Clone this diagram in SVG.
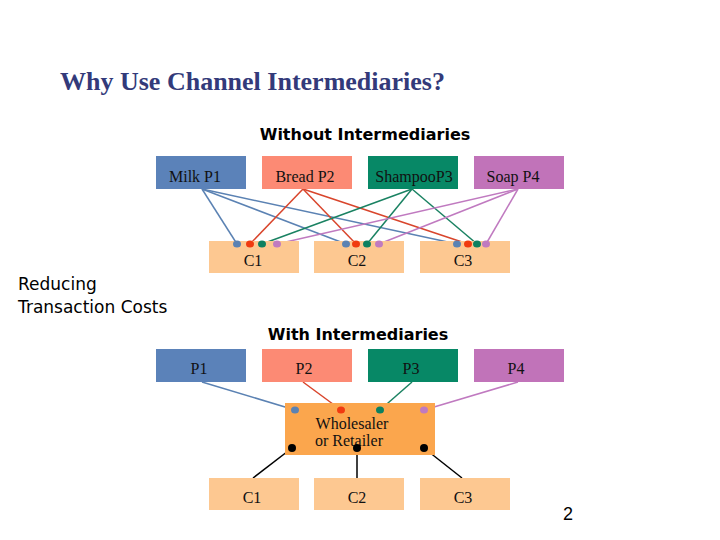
<svg xmlns="http://www.w3.org/2000/svg" width="720" height="540" viewBox="0 0 720 540">
<style>
.t{font-family:"Liberation Serif",serif;font-size:16px;fill:#111;text-anchor:middle}
.h{font-family:"DejaVu Sans",sans-serif;font-size:16px;font-weight:bold;fill:#000;text-anchor:middle}
.c{fill:#fdc891}
line{stroke-width:1.5}
</style>
<rect width="720" height="540" fill="#fff"/>
<text x="60" y="90" style="font-family:'Liberation Serif',serif;font-size:26px;font-weight:bold;fill:#333a7a">Why Use Channel Intermediaries?</text>
<text class="h" x="365" y="140">Without Intermediaries</text>
<text class="h" x="358" y="340">With Intermediaries</text>
<text x="18" y="290" style="font-family:'DejaVu Sans',sans-serif;font-size:17px">Reducing</text>
<text x="18" y="313" style="font-family:'DejaVu Sans',sans-serif;font-size:17px">Transaction Costs</text>
<text x="563" y="520" style="font-family:'Liberation Sans',sans-serif;font-size:18px">2</text>
<g id="connectors">
<g stroke="#5b82b3"><line x1="202" y1="189" x2="237" y2="244"/><line x1="202" y1="189" x2="346" y2="244"/><line x1="202" y1="189" x2="457" y2="244"/></g>
<g stroke="#d9452c"><line x1="303" y1="189" x2="250" y2="244"/><line x1="303" y1="189" x2="356" y2="244"/><line x1="303" y1="189" x2="468" y2="244"/></g>
<g stroke="#1a8262"><line x1="412" y1="189" x2="262" y2="244"/><line x1="412" y1="189" x2="367" y2="244"/><line x1="412" y1="189" x2="477" y2="244"/></g>
<g stroke="#c07ac0"><line x1="518" y1="189" x2="277" y2="244"/><line x1="518" y1="189" x2="379" y2="244"/><line x1="518" y1="189" x2="486" y2="244"/></g>
<line x1="202" y1="382" x2="295" y2="410" stroke="#5b82b3"/>
<line x1="303" y1="382" x2="341" y2="410" stroke="#d9452c"/>
<line x1="412" y1="382" x2="380" y2="410" stroke="#1a8262"/>
<line x1="518" y1="382" x2="424" y2="410" stroke="#c07ac0"/>
<g stroke="#000"><line x1="292" y1="448" x2="253" y2="478"/><line x1="357" y1="448" x2="357" y2="478"/><line x1="424" y1="448" x2="462" y2="478"/></g>
</g>
<g id="milk"><rect x="156" y="156" width="90" height="33" fill="#5b82b9"/><text class="t" x="195" y="182">Milk P1</text></g>
<g id="bread"><rect x="262" y="156" width="90" height="33" fill="#fc8a74"/><text class="t" x="305" y="182">Bread P2</text></g>
<g id="shampoo"><rect x="368" y="156" width="90" height="33" fill="#078866"/><text class="t" x="414" y="182">ShampooP3</text></g>
<g id="soap"><rect x="474" y="156" width="90" height="33" fill="#c173b9"/><text class="t" x="513" y="182">Soap P4</text></g>
<g id="c1a"><rect class="c" x="209" y="241" width="90" height="32"/><text class="t" x="253" y="266">C1</text></g>
<g id="c2a"><rect class="c" x="314" y="241" width="90" height="32"/><text class="t" x="357" y="266">C2</text></g>
<g id="c3a"><rect class="c" x="420" y="241" width="90" height="32"/><text class="t" x="463" y="266">C3</text></g>
<g id="dots1">
<g fill="#5b82b3"><ellipse cx="237" cy="244" rx="4" ry="3.5"/><ellipse cx="346" cy="244" rx="4" ry="3.5"/><ellipse cx="457" cy="244" rx="4" ry="3.5"/></g>
<g fill="#f03a10"><ellipse cx="250" cy="244" rx="4" ry="3.5"/><ellipse cx="356" cy="244" rx="4" ry="3.5"/><ellipse cx="468" cy="244" rx="4" ry="3.5"/></g>
<g fill="#0c8060"><ellipse cx="262" cy="244" rx="4" ry="3.5"/><ellipse cx="367" cy="244" rx="4" ry="3.5"/><ellipse cx="477" cy="244" rx="4" ry="3.5"/></g>
<g fill="#c07ac0"><ellipse cx="277" cy="244" rx="4" ry="3.5"/><ellipse cx="379" cy="244" rx="4" ry="3.5"/><ellipse cx="486" cy="244" rx="4" ry="3.5"/></g>
</g>
<g id="p1"><rect x="156" y="349" width="90" height="33" fill="#5b82b9"/><text class="t" x="199" y="374">P1</text></g>
<g id="p2"><rect x="262" y="349" width="90" height="33" fill="#fc8a74"/><text class="t" x="304" y="374">P2</text></g>
<g id="p3"><rect x="368" y="349" width="90" height="33" fill="#078866"/><text class="t" x="411" y="374">P3</text></g>
<g id="p4"><rect x="474" y="349" width="90" height="33" fill="#c173b9"/><text class="t" x="516" y="374">P4</text></g>
<g id="wholesaler"><rect x="285" y="403" width="150" height="52" fill="#fba64d"/>
<text class="t" x="352" y="429">Wholesaler</text><text class="t" x="349" y="446">or Retailer</text>
<ellipse cx="295" cy="410" rx="4" ry="3.5" fill="#5b82b3"/><ellipse cx="341" cy="410" rx="4" ry="3.5" fill="#f03a10"/><ellipse cx="380" cy="410" rx="4" ry="3.5" fill="#0c8060"/><ellipse cx="424" cy="410" rx="4" ry="3.5" fill="#c07ac0"/>
<circle cx="292" cy="448" r="4" fill="#000"/><circle cx="357" cy="448" r="4" fill="#000"/><circle cx="424" cy="448" r="4" fill="#000"/></g>
<g id="c1b"><rect class="c" x="209" y="478" width="90" height="32"/><text class="t" x="252" y="503">C1</text></g>
<g id="c2b"><rect class="c" x="314" y="478" width="90" height="32"/><text class="t" x="357" y="503">C2</text></g>
<g id="c3b"><rect class="c" x="420" y="478" width="90" height="32"/><text class="t" x="463" y="503">C3</text></g>
</svg>
